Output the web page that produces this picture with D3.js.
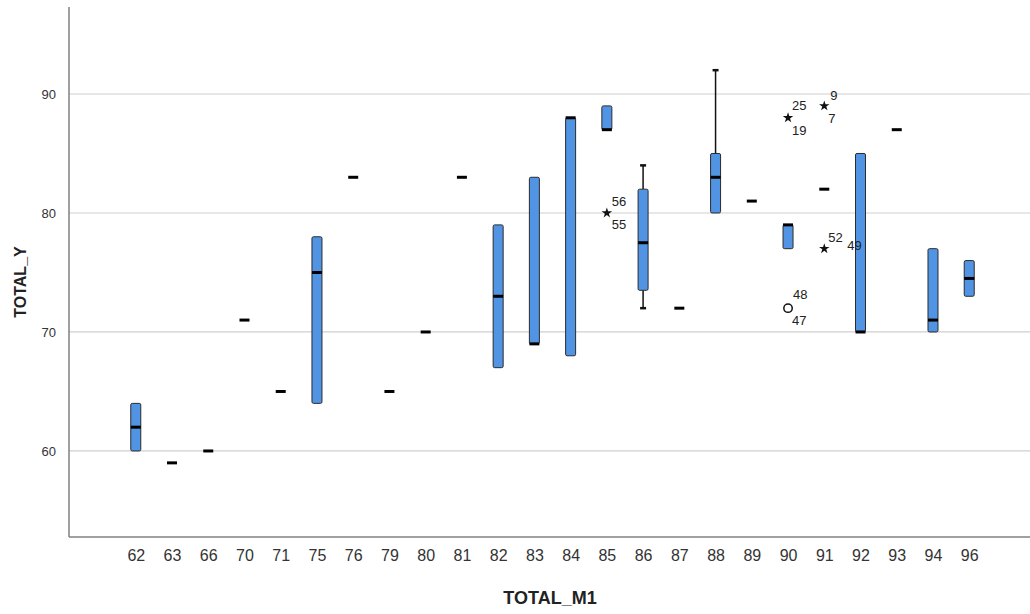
<!DOCTYPE html>
<html>
<head>
<meta charset="utf-8">
<script src="https://cdn.jsdelivr.net/npm/d3@7"></script>
<style>
  body { margin: 0; background: #fff; }
  svg { display: block; font-family: "Liberation Sans", Arial, sans-serif; }
</style>
</head>
<body>
<svg id="chart" width="1030" height="614"></svg>
<script>
// ---- data ----
const categories = ["62","63","66","70","71","75","76","79","80","81","82","83","84","85","86","87","88","89","90","91","92","93","94","96"];
const whiskerLow  = [60,59,60,71,65,64,83,65,70,83,67,69,68,87,72,  72,80,81,77,82,70,87,70,73];
const q1Values    = [60,59,60,71,65,64,83,65,70,83,67,69,68,87,73.5,72,80,81,77,82,70,87,70,73];
const medians     = [62,59,60,71,65,75,83,65,70,83,73,69,88,87,77.5,72,83,81,79,82,70,87,71,74.5];
const q3Values    = [64,59,60,71,65,78,83,65,70,83,79,83,88,89,82,  72,85,81,79,82,85,87,77,76];
const whiskerHigh = [64,59,60,71,65,78,83,65,70,83,79,83,88,89,84,  72,92,81,79,82,85,87,77,76];

const outlierCats   = ["85","90","90","91","91"];
const outlierValues = [80,88,72,89,77];
const outlierKinds  = ["extreme","extreme","mild","extreme","extreme"];
const outlierIdsTop = ["56","25","48","9","52"];
const outlierIdsBot = ["55","19","47","7","49"];

const yTicks = [60,70,80,90];

// ---- layout ----
const svg = d3.select("#chart");
const pLeft = 69, pRight = 1030, pTop = 7, pBottom = 537;
const x = d3.scalePoint().domain(categories).range([pLeft + 3, pRight + 3]).padding(1.76);
const y = d3.scaleLinear().domain([52.77, 97.31]).range([pBottom, pTop]);

// label offsets (layout only)
const topOffsets = [[5,-11],[4,-12],[5,-13],[6,-10],[4,-11]];
const botOffsets = [[5,12],[4,13],[4,13],[4,13],[23,-3]];

// gridlines
svg.append("g").selectAll("line").data(yTicks).join("line")
  .attr("x1", pLeft).attr("x2", pRight)
  .attr("y1", d => y(d)).attr("y2", d => y(d))
  .attr("stroke", "#cfcfcf").attr("stroke-width", 1.2);

// y axis
const yAxis = svg.append("g").attr("transform", `translate(${pLeft},0)`)
  .call(d3.axisLeft(y).tickValues(yTicks).tickSize(0).tickPadding(13));
yAxis.select(".domain").remove();
yAxis.selectAll("text").attr("font-size", 13).attr("fill", "#333")
  .attr("font-family", "Liberation Sans, Arial, sans-serif");

// x axis
const xAxis = svg.append("g").attr("transform", `translate(0,${pBottom})`)
  .call(d3.axisBottom(x).tickSize(0).tickPadding(13));
xAxis.select(".domain").remove();
xAxis.selectAll("text").attr("font-size", 16).attr("fill", "#333")
  .attr("font-family", "Liberation Sans, Arial, sans-serif");

// axis lines
svg.append("line").attr("x1", pLeft).attr("x2", pLeft).attr("y1", pTop).attr("y2", pBottom)
  .attr("stroke", "#808080").attr("stroke-width", 1.5);
svg.append("line").attr("x1", pLeft).attr("x2", pRight).attr("y1", pBottom).attr("y2", pBottom)
  .attr("stroke", "#808080").attr("stroke-width", 1.5);

// titles
svg.append("text").attr("x", 550).attr("y", 604).attr("text-anchor", "middle")
  .attr("font-size", 18).attr("font-weight", "bold").attr("fill", "#222").text("TOTAL_M1");
svg.append("text").attr("transform", "translate(26,282) rotate(-90)").attr("text-anchor", "middle")
  .attr("font-size", 16).attr("font-weight", "bold").attr("fill", "#222").text("TOTAL_Y");

// boxes
const boxW = 10;
const data = categories.map((c, i) => ({
  c, lo: whiskerLow[i], q1: q1Values[i], med: medians[i], q3: q3Values[i], hi: whiskerHigh[i]
}));
const g = svg.append("g");
data.forEach(d => {
  const cx = x(d.c);
  if (d.hi > d.q3) {
    g.append("line").attr("x1", cx).attr("x2", cx).attr("y1", y(d.q3)).attr("y2", y(d.hi))
      .attr("stroke", "#111").attr("stroke-width", 1.5);
    g.append("line").attr("x1", cx - 3).attr("x2", cx + 3).attr("y1", y(d.hi)).attr("y2", y(d.hi))
      .attr("stroke", "#111").attr("stroke-width", 2.5);
  }
  if (d.lo < d.q1) {
    g.append("line").attr("x1", cx).attr("x2", cx).attr("y1", y(d.q1)).attr("y2", y(d.lo))
      .attr("stroke", "#111").attr("stroke-width", 1.5);
    g.append("line").attr("x1", cx - 3).attr("x2", cx + 3).attr("y1", y(d.lo)).attr("y2", y(d.lo))
      .attr("stroke", "#111").attr("stroke-width", 2.5);
  }
  if (d.q3 > d.q1) {
    g.append("rect").attr("x", cx - boxW / 2).attr("y", y(d.q3))
      .attr("width", boxW).attr("height", y(d.q1) - y(d.q3))
      .attr("rx", 1.5)
      .attr("fill", "#5294e4").attr("stroke", "#2b2b2b").attr("stroke-width", 1);
  }
  g.append("line").attr("x1", cx - boxW / 2).attr("x2", cx + boxW / 2)
    .attr("y1", y(d.med)).attr("y2", y(d.med))
    .attr("stroke", "#000").attr("stroke-width", 3);
});

// outliers
const star = d3.symbol().type(d3.symbolStar).size(34);
outlierCats.forEach((c, i) => {
  const cx = x(c), cy = y(outlierValues[i]);
  if (outlierKinds[i] === "extreme") {
    g.append("path").attr("d", star()).attr("transform", `translate(${cx},${cy})`)
      .attr("fill", "#111");
  } else {
    g.append("circle").attr("cx", cx).attr("cy", cy).attr("r", 4.2)
      .attr("fill", "none").attr("stroke", "#111").attr("stroke-width", 1.5);
  }
  g.append("text").attr("x", cx + topOffsets[i][0]).attr("y", cy + topOffsets[i][1] + 4)
    .attr("font-size", 13).attr("fill", "#222").text(outlierIdsTop[i]);
  g.append("text").attr("x", cx + botOffsets[i][0]).attr("y", cy + botOffsets[i][1] + 4)
    .attr("font-size", 13).attr("fill", "#222").text(outlierIdsBot[i]);
});
</script>
</body>
</html>
